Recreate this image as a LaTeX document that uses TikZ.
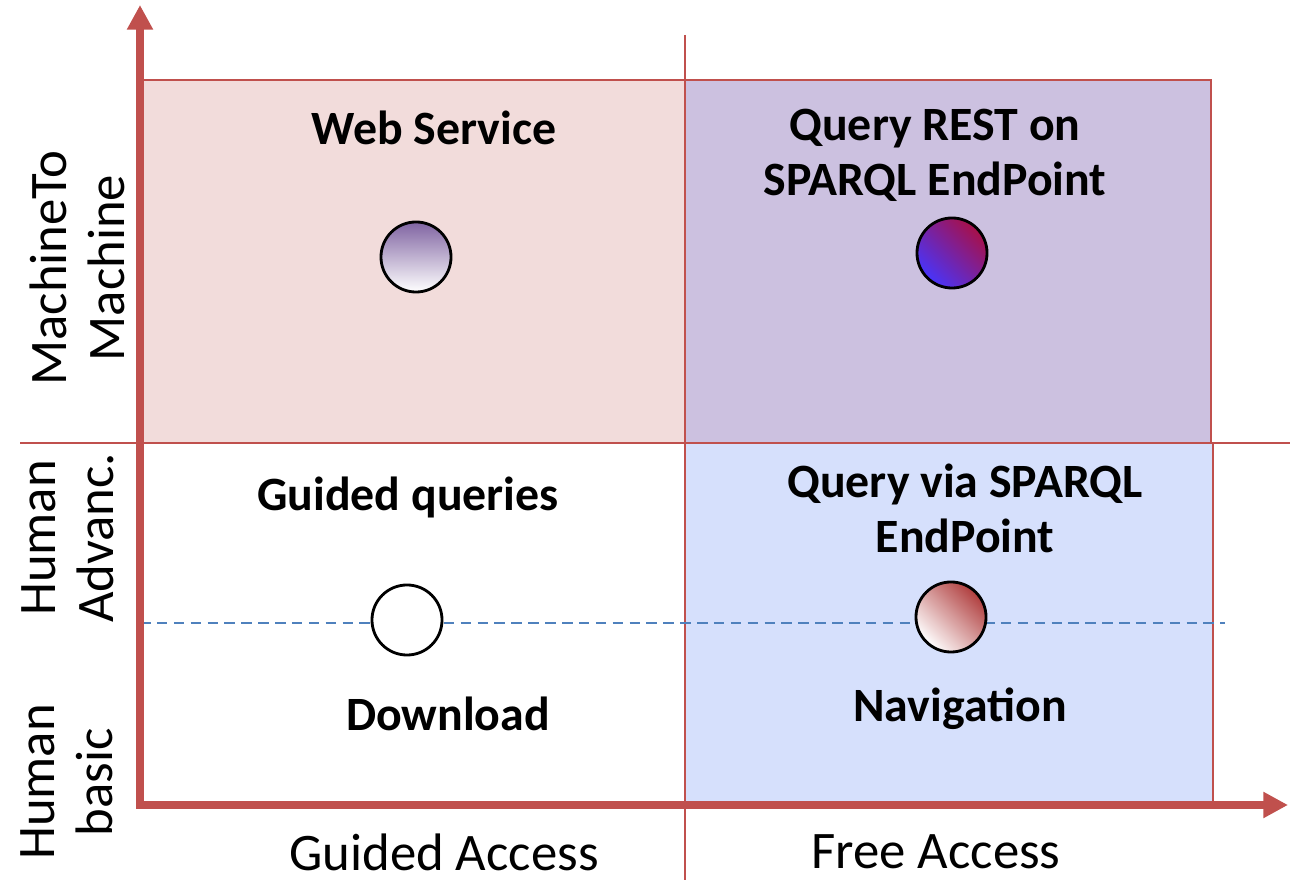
\documentclass[tikz,border=0pt]{standalone}
\usepackage{fontspec}
\setmainfont{Carlito}
\usetikzlibrary{arrows.meta}
\definecolor{axisred}{RGB}{192,80,77}
\definecolor{quadpink}{RGB}{242,220,219}
\definecolor{quadlilac}{RGB}{204,193,224}
\definecolor{quadblue}{RGB}{214,224,252}
\definecolor{dashblue}{RGB}{79,129,189}
\definecolor{dotpurple}{RGB}{128,100,162}
\definecolor{dotcrimson}{RGB}{168,16,72}
\definecolor{dotblue}{RGB}{72,52,250}
\definecolor{dotred}{RGB}{176,62,62}
\begin{document}
\begin{tikzpicture}[x=0.01cm, y=-0.01cm,
    quad/.style={draw=axisred, line width=0.6pt},
    guide/.style={draw=axisred, line width=0.6pt},
    axis/.style={draw=axisred, line width=2pt, {Triangle[length=7pt,width=7pt]}-{Triangle[length=7pt,width=7pt]}},
    title/.style={font=\fontsize{13.6}{15.6}\selectfont\bfseries, align=center},
    side/.style={font=\fontsize{15}{16.5}\selectfont, align=center},
    dot/.style={circle, draw, line width=0.8pt, minimum size=0.7cm, inner sep=0pt}]
    \useasboundingbox (0,0) rectangle (1291,880);

    % Quadrants.
    \draw[quad, fill=quadpink] (137,80) rectangle (685,443);
    \draw[quad, fill=quadlilac] (685,80) rectangle (1211,443);
    \draw[quad, fill=quadblue] (685,443) rectangle (1213,805);

    % Guide lines.
    \draw[guide] (685,35) -- (685,880);
    \draw[guide] (20,443) -- (1290,443);
    \draw[dashblue, line width=0.6pt, dash pattern=on 3pt off 1.8pt] (140,623) -- (1225,623);

    % Axes.
    \coordinate (ytip) at (140,5);
    \coordinate (origin) at (140,805);
    \coordinate (xtip) at (1288,805);
    \draw[axis] (ytip) -- (origin) -- (xtip);

    % Points.
    \node[dot, top color=dotpurple, bottom color=white] (ws-dot) at (416,257) {};
    \node[dot, top color=dotcrimson, bottom color=dotblue, shading angle=-45] (rest-dot) at (952,253) {};
    \node[dot, fill=white] (gq-dot) at (407,620) {};
    \node[dot, top color=dotred, bottom color=white, shading angle=-45] (nav-dot) at (951,617) {};

    % Quadrant labels.
    \node[title] (ws) at (434,128) {Web Service};
    \node[title] (rest) at (935,155) {Query REST on\\SPARQL EndPoint};
    \node[title] (gq) at (408,497) {Guided queries};
    \node[title] (qv) at (965,508) {Query via SPARQL\\EndPoint};
    \node[title] (dl) at (448,714) {Download};
    \node[title] (nav) at (960,709) {Navigation};

    % Axis labels.
    \node[side] (guided) at (444,852) {Guided Access};
    \node[side] (free) at (936,852) {Free Access};
    \node[side, rotate=90] (m2m) at (77,268) {MachineTo\\Machine};
    \node[side, rotate=90] (advanc) at (68,538) {Human\\Advanc.};
    \node[side, rotate=90] (basic) at (67,782) {Human\\basic};
\end{tikzpicture}
\end{document}
